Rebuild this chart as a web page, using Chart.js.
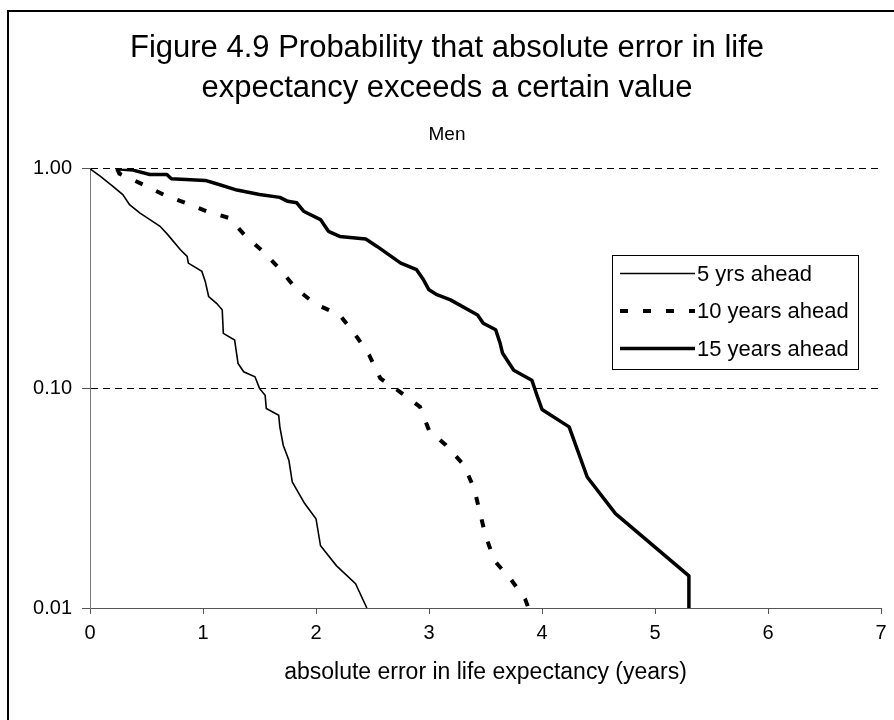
<!DOCTYPE html>
<html>
<head>
<meta charset="utf-8">
<script src="https://cdn.jsdelivr.net/npm/chart.js@4/dist/chart.umd.min.js"></script>
<style>
  body { margin: 0; background: #fff; }
  #wrap { width: 894px; height: 720px; }
</style>
</head>
<body>
<div id="wrap"><canvas id="chartError" width="894" height="720"></canvas></div>
<script>
// === Datos ===
const seriesNames = ["5 yrs ahead", "10 years ahead", "15 years ahead"];

const fiveX = [0, 0.09, 0.2, 0.29, 0.35, 0.44, 0.53, 0.62, 0.69, 0.8, 0.86, 0.87, 0.99, 1.02, 1.05, 1.12, 1.17, 1.18, 1.28, 1.31, 1.36, 1.46, 1.5, 1.55, 1.56, 1.67, 1.68, 1.71, 1.76, 1.79, 1.9, 2.0, 2.04, 2.18, 2.35, 2.45];
const fiveP = [1.0, 0.925, 0.833, 0.763, 0.687, 0.63, 0.587, 0.547, 0.5, 0.428, 0.399, 0.372, 0.341, 0.307, 0.262, 0.244, 0.228, 0.178, 0.166, 0.13, 0.119, 0.113, 0.1, 0.093, 0.081, 0.0755, 0.0668, 0.0551, 0.0471, 0.0375, 0.0299, 0.0255, 0.0192, 0.0156, 0.0129, 0.01];

const tenX = [0.24, 0.26, 0.47, 0.65, 0.84, 1.03, 1.23, 1.38, 1.53, 1.68, 1.82, 1.99, 2.21, 2.36, 2.47, 2.57, 2.73, 2.92, 3.0, 3.15, 3.31, 3.4, 3.45, 3.5, 3.58, 3.72, 3.85, 3.88];
const tenP = [1.0, 0.95, 0.847, 0.763, 0.7, 0.641, 0.597, 0.492, 0.421, 0.349, 0.286, 0.243, 0.216, 0.172, 0.142, 0.111, 0.0975, 0.0824, 0.0645, 0.0551, 0.0447, 0.0349, 0.0273, 0.0214, 0.0164, 0.0136, 0.011, 0.01];

const fifteenX = [0.24, 0.38, 0.53, 0.68, 0.72, 1.02, 1.12, 1.3, 1.5, 1.68, 1.75, 1.83, 1.89, 2.04, 2.11, 2.21, 2.44, 2.54, 2.75, 2.89, 2.95, 3.0, 3.07, 3.19, 3.43, 3.48, 3.59, 3.63, 3.65, 3.75, 3.91, 3.96, 4.0, 4.24, 4.4, 4.65, 5.3, 5.3];
const fifteenP = [1.0, 0.986, 0.942, 0.942, 0.9, 0.885, 0.855, 0.8, 0.763, 0.741, 0.711, 0.7, 0.641, 0.587, 0.519, 0.492, 0.479, 0.443, 0.372, 0.347, 0.313, 0.281, 0.267, 0.253, 0.216, 0.198, 0.185, 0.16, 0.145, 0.121, 0.109, 0.0916, 0.0802, 0.0668, 0.0395, 0.0269, 0.014, 0.01];

const yTicks = [0.01, 0.1, 1];

const fuente = "'Liberation Sans', Arial, sans-serif";
const pares = (xs, ys) => xs.map((x, i) => ({ x: x, y: ys[i] }));

// === Marco exterior ===
const marco = {
  id: "marco",
  beforeDraw(chart) {
    const ctx = chart.ctx;
    ctx.save();
    ctx.fillStyle = "#fff";
    ctx.fillRect(0, 0, chart.width, chart.height);
    ctx.strokeStyle = "#000";
    ctx.lineWidth = 2;
    ctx.beginPath();
    ctx.moveTo(8, chart.height);
    ctx.lineTo(8, 11);
    ctx.lineTo(chart.width, 11);
    ctx.stroke();
    ctx.restore();
  }
};

// === Leyenda con recuadro ===
const leyenda = {
  id: "leyenda",
  afterDraw(chart) {
    const ctx = chart.ctx;
    const box = { x: 612.5, y: 255.5, w: 246, h: 114 };
    ctx.save();
    ctx.fillStyle = "#fff";
    ctx.fillRect(box.x, box.y, box.w, box.h);
    ctx.strokeStyle = "#000";
    ctx.lineWidth = 1;
    ctx.strokeRect(box.x, box.y, box.w, box.h);
    chart.data.datasets.forEach((ds, i) => {
      const y = box.y + 18 + i * 37.5;
      ctx.beginPath();
      ctx.lineWidth = ds.borderWidth;
      ctx.setLineDash(ds.borderDash || []);
      ctx.strokeStyle = ds.borderColor;
      ctx.moveTo(620, y);
      ctx.lineTo(695, y);
      ctx.stroke();
      ctx.setLineDash([]);
      ctx.fillStyle = "#000";
      ctx.font = "22px " + fuente;
      ctx.textAlign = "left";
      ctx.textBaseline = "middle";
      ctx.fillText(ds.label, 697, y + 1);
    });
    ctx.restore();
  }
};

new Chart(document.getElementById("chartError"), {
  type: "line",
  data: {
    datasets: [
      {
        label: seriesNames[0],
        data: pares(fiveX, fiveP),
        borderColor: "#000",
        borderWidth: 1.6,
        pointRadius: 0,
        tension: 0
      },
      {
        label: seriesNames[1],
        data: pares(tenX, tenP),
        borderColor: "#000",
        borderWidth: 4,
        borderDash: [8, 15],
        borderCapStyle: "butt",
        pointRadius: 0,
        tension: 0
      },
      {
        label: seriesNames[2],
        data: pares(fifteenX, fifteenP),
        borderColor: "#000",
        borderWidth: 3.5,
        borderJoinStyle: "round",
        pointRadius: 0,
        tension: 0
      }
    ]
  },
  options: {
    responsive: false,
    animation: false,
    layout: { padding: { left: 13, right: 13, top: 0, bottom: 0 } },
    plugins: {
      legend: { display: false },
      tooltip: { enabled: false },
      title: {
        display: true,
        text: ["Figure 4.9 Probability that absolute error in life", "expectancy exceeds a certain value"],
        color: "#000",
        font: { family: fuente, size: 31, weight: "normal", lineHeight: 1.29 },
        padding: { top: 28, bottom: 0 }
      },
      subtitle: {
        display: true,
        text: "Men",
        color: "#000",
        font: { family: fuente, size: 19, lineHeight: 1.2 },
        padding: { top: 15, bottom: 23 }
      }
    },
    scales: {
      x: {
        type: "linear",
        min: 0,
        max: 7,
        afterFit: (scale) => { scale.height = 112; },
        ticks: {
          stepSize: 1,
          color: "#000",
          padding: 7,
          maxRotation: 0,
          font: { family: fuente, size: 20 }
        },
        grid: { drawOnChartArea: false, tickLength: 6, tickColor: "#555" },
        border: { color: "#555", width: 1 },
        title: {
          display: true,
          text: "absolute error in life expectancy (years)",
          color: "#000",
          font: { family: fuente, size: 23, lineHeight: 1.2 },
          padding: { top: 0, bottom: 34 }
        }
      },
      y: {
        type: "logarithmic",
        min: 0.01,
        max: 1,
        afterFit: (scale) => { scale.width = 77; },
        afterBuildTicks: (scale) => { scale.ticks = yTicks.map(v => ({ value: v })); },
        ticks: {
          color: "#000",
          padding: 10,
          font: { family: fuente, size: 20 },
          callback: (v) => Number(v).toFixed(2)
        },
        grid: {
          color: (c) => (c.tick && c.tick.value === 0.01 ? "rgba(0,0,0,0)" : "#000"),
          tickColor: "#555",
          tickLength: 8,
          lineWidth: 1
        },
        border: { color: "#777", width: 1, dash: [7, 5] }
      }
    }
  },
  plugins: [marco, leyenda]
});
</script>
</body>
</html>
